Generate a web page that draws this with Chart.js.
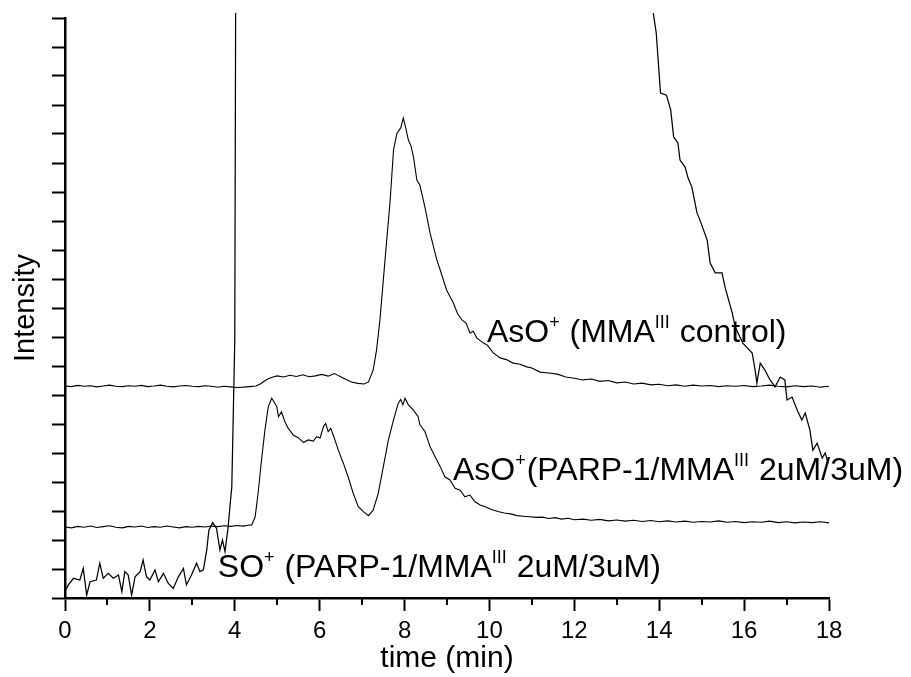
<!DOCTYPE html>
<html>
<head>
<meta charset="utf-8">
<script src="https://cdn.jsdelivr.net/npm/chart.js@4.4.1/dist/chart.umd.min.js"></script>
<style>
  html, body { margin: 0; padding: 0; background: #fff; }
  canvas { display: block; }
</style>
</head>
<body>
<canvas id="chart" width="911" height="677"></canvas>
<script>
// AsO+ (MMA III control)
const TIME_CONTROL = [
    0, 0.15, 0.3, 0.45, 0.6, 0.75, 0.9, 1.05, 1.2, 1.35, 1.5, 1.65, 1.8, 1.95, 2.1, 2.25,
    2.4, 2.55, 2.7, 2.85, 3.0, 3.15, 3.3, 3.45, 3.6, 3.75, 3.9, 4.05, 4.2, 4.35, 4.5,
    4.6, 4.7, 4.8, 4.9, 5.0, 5.15, 5.3, 5.45, 5.6, 5.75, 5.9, 6.05, 6.2, 6.35,
    6.45, 6.6, 6.75, 6.9, 7.05, 7.15,
    7.26, 7.34, 7.42, 7.5, 7.58, 7.66, 7.74, 7.82, 7.91, 7.97,
    8.03, 8.09, 8.15, 8.21, 8.29, 8.36, 8.48, 8.6, 8.76, 8.84,
    8.99, 9.15, 9.25, 9.35, 9.45, 9.54, 9.62, 9.7, 9.86, 9.95,
    10.09, 10.25, 10.4, 10.56, 10.72, 10.88, 11.0, 11.19,
    11.4, 11.6, 11.8, 12.0, 12.2, 12.4, 12.6, 12.8, 13.0, 13.2, 13.4, 13.6, 13.8, 14.0,
    14.2, 14.4, 14.6, 14.8, 15.0, 15.2, 15.4, 15.6, 15.8, 16.0, 16.2, 16.4, 16.6, 16.8,
    17.0, 17.2, 17.4, 17.6, 17.8, 18.0,
];
const INT_CONTROL = [
    7.31, 7.29, 7.33, 7.30, 7.32, 7.28, 7.31, 7.34, 7.30, 7.29, 7.32, 7.30, 7.33, 7.29, 7.31, 7.34,
    7.30, 7.28, 7.31, 7.33, 7.30, 7.29, 7.32, 7.30, 7.27, 7.30, 7.28, 7.26, 7.27, 7.29, 7.31,
    7.38, 7.48, 7.57, 7.62, 7.66, 7.62, 7.68, 7.64, 7.70, 7.63, 7.66, 7.71, 7.65, 7.74,
    7.66, 7.55, 7.45, 7.40, 7.38, 7.45,
    7.86, 8.55, 9.59, 10.97, 12.34, 13.69, 15.45, 16.03, 16.21, 16.55,
    16.2, 15.79, 15.6, 15.21, 14.41, 14.24, 13.48, 12.59, 11.66, 11.31,
    10.62, 10.17, 9.8, 9.59, 9.48, 9.14, 9.2, 8.97, 8.79, 8.72,
    8.45, 8.28, 8.22, 8.10, 8.06, 7.97, 7.93, 7.79,
    7.76, 7.72, 7.62, 7.58, 7.52, 7.55, 7.47, 7.50, 7.42, 7.45, 7.38, 7.41, 7.35, 7.37,
    7.32, 7.35, 7.30, 7.34, 7.31, 7.33, 7.29, 7.32, 7.30, 7.33, 7.29, 7.31, 7.34, 7.30,
    7.28, 7.32, 7.29, 7.31, 7.27, 7.30,
];

// AsO+ (PARP-1/MMA III 2uM/3uM)
const TIME_PARP = [
    0, 0.15, 0.3, 0.45, 0.6, 0.75, 0.9, 1.05, 1.2, 1.35, 1.5, 1.65, 1.8, 1.95, 2.1, 2.25,
    2.4, 2.55, 2.7, 2.85, 3.0, 3.15, 3.3, 3.45, 3.6, 3.75, 3.9, 4.05, 4.2, 4.32, 4.40,
    4.48, 4.55, 4.63, 4.71, 4.79, 4.87, 4.93, 4.99, 5.03, 5.1, 5.18, 5.26, 5.38, 5.5,
    5.62, 5.73, 5.85, 5.93, 6.01, 6.09, 6.14, 6.2, 6.26, 6.32, 6.44, 6.56, 6.67, 6.79,
    6.91, 7.03, 7.15, 7.26, 7.38, 7.5, 7.62, 7.74, 7.85, 7.91, 7.96, 8.01, 8.09, 8.21,
    8.32, 8.36, 8.48, 8.6, 8.72, 8.84, 8.95, 9.07, 9.19, 9.31, 9.42, 9.54, 9.66, 9.78,
    9.9, 10.05, 10.2, 10.35, 10.5, 10.65, 10.8, 10.95, 11.1, 11.25, 11.4, 11.55, 11.7, 11.85,
    12.0, 12.2, 12.4, 12.6, 12.8, 13.0, 13.2, 13.4, 13.6, 13.8, 14.0, 14.2, 14.4, 14.6,
    14.8, 15.0, 15.2, 15.4, 15.6, 15.8, 16.0, 16.2, 16.4, 16.6, 16.8, 17.0, 17.2, 17.4,
    17.6, 17.8, 18.0,
];
const INT_PARP = [
    2.45, 2.42, 2.47, 2.44, 2.48, 2.43, 2.46, 2.49, 2.44, 2.42, 2.47, 2.45, 2.48, 2.43, 2.46, 2.44,
    2.48, 2.45, 2.42, 2.46, 2.44, 2.47, 2.45, 2.48, 2.46, 2.49, 2.47, 2.50, 2.48, 2.51, 2.52,
    2.8, 3.62, 4.76, 5.79, 6.6, 6.89, 6.75, 6.6, 6.25, 6.42, 6.08, 5.85, 5.62, 5.52,
    5.36, 5.45, 5.41, 5.56, 5.52, 5.91, 6.02, 5.74, 5.85, 5.62, 5.1, 4.64, 4.18, 3.61,
    3.15, 2.98, 2.84, 3.03, 3.61, 4.53, 5.45, 6.14, 6.71, 6.85, 6.66, 6.89, 6.66, 6.48,
    6.25, 5.97, 5.74, 5.22, 4.87, 4.53, 4.18, 4.07, 3.78, 3.72, 3.49, 3.55, 3.32, 3.21,
    3.15, 3.05, 2.98, 2.93, 2.9, 2.84, 2.82, 2.8, 2.78, 2.79, 2.74, 2.77, 2.72, 2.75,
    2.70, 2.72, 2.68, 2.71, 2.66, 2.69, 2.65, 2.68, 2.64, 2.67, 2.63, 2.66, 2.62, 2.65,
    2.61, 2.64, 2.62, 2.66, 2.61, 2.64, 2.60, 2.63, 2.61, 2.65, 2.60, 2.63, 2.59, 2.62,
    2.60, 2.63, 2.59,
];

// SO+ (PARP-1/MMA III 2uM/3uM); runs off the top between ~4 and ~14 min
const TIME_SO = [
    0.02, 0.08, 0.2, 0.35, 0.43, 0.51, 0.59, 0.74, 0.82, 0.9, 1.02, 1.14, 1.26, 1.34,
    1.41, 1.49, 1.57, 1.65, 1.77, 1.84, 1.92, 2.0, 2.12, 2.2, 2.32, 2.43, 2.55, 2.67,
    2.79, 2.86, 2.98, 3.1, 3.18, 3.26, 3.34, 3.39, 3.48, 3.57, 3.65, 3.71, 3.77, 3.84,
    3.9, 3.93, 4.0, 4.02,
    9.0,
    13.86, 13.93, 14.03, 14.17, 14.27, 14.34, 14.44, 14.49, 14.61, 14.68, 14.77, 14.89,
    14.96, 15.13, 15.2, 15.32, 15.48, 15.55, 15.72, 15.79, 15.97, 16.19, 16.26, 16.3,
    16.38, 16.49, 16.61, 16.73, 16.85, 16.96, 17.01, 17.13, 17.25, 17.36, 17.44, 17.55,
    17.62, 17.72, 17.84, 17.91, 17.98,
];
const INT_SO = [
    0.28, 0.45, 0.68, 0.62, 1.02, 0.1, 0.56, 0.62, 1.2, 0.68, 0.85, 0.68, 0.79, 0.22,
    0.91, 0.79, 0.1, 0.73, 0.91, 1.31, 0.73, 0.62, 0.97, 0.56, 0.85, 0.51, 0.33, 0.73,
    1.02, 0.45, 0.79, 1.2, 0.91, 0.97, 1.66, 2.34, 2.6, 2.4, 1.66, 2.0, 1.6, 2.4,
    3.38, 3.83, 8.9, 20.17,
    null,
    20.17, 19.48, 17.41, 17.34, 16.83, 15.9, 15.69, 15.1, 14.86, 14.48, 14.17, 13.28,
    13.03, 12.34, 11.55, 11.21, 11.21, 10.72, 9.83, 9.34, 8.79, 8.45, 7.86, 7.41,
    8.1, 7.86, 7.52, 7.28, 7.62, 7.52, 6.83, 6.93, 6.48, 6.14, 6.38, 5.79,
    5.10, 5.34, 4.83, 5.0, 4.66,
];

const X_TICKS = [0, 2, 4, 6, 8, 10, 12, 14, 16, 18];
const X_MINOR_TICKS = [1, 3, 5, 7, 9, 11, 13, 15, 17];
const Y_TICKS = [0, 1, 2, 3, 4, 5, 6, 7, 8, 9, 10, 11, 12, 13, 14, 15, 16, 17, 18, 19, 20];

// trace labels, placed in data units; second flag marks superscript pieces
const TRACE_LABELS = [
    { t: 9.94, v: 8.83, parts: [['AsO', 0], ['+', 1], [' (MMA', 0], ['III', 1], [' control)', 0]] },
    { t: 9.14, v: 4.07, parts: [['AsO', 0], ['+', 1], ['(PARP-1/MMA', 0], ['III', 1], [' 2uM/3uM)', 0]] },
    { t: 3.6, v: 0.72, parts: [['SO', 0], ['+', 1], [' (PARP-1/MMA', 0], ['III', 1], [' 2uM/3uM)', 0]] },
];

const FONT = '"Liberation Sans", Arial, Helvetica, sans-serif';

function toPoints(times, values) {
    return times.map((t, i) => ({ x: t, y: values[i] === undefined ? null : values[i] }));
}

function trace(data, extra) {
    return Object.assign({
        data,
        borderColor: '#000',
        borderWidth: 1.1,
        pointRadius: 0,
        tension: 0,
        fill: false,
        spanGaps: false,
    }, extra || {});
}

const minorTicks = {
    id: 'minorTicks',
    afterDraw(chart) {
        const { ctx, scales: { x } } = chart;
        ctx.save();
        ctx.strokeStyle = '#000';
        ctx.lineWidth = 2;
        X_MINOR_TICKS.forEach((v) => {
            const px = Math.round(x.getPixelForValue(v));
            ctx.beginPath();
            ctx.moveTo(px, x.top);
            ctx.lineTo(px, x.top + 7);
            ctx.stroke();
        });
        ctx.restore();
    },
};

const traceLabels = {
    id: 'traceLabels',
    afterDatasetsDraw(chart) {
        const { ctx, scales: { x, y } } = chart;
        ctx.save();
        ctx.fillStyle = '#000';
        ctx.textBaseline = 'alphabetic';
        ctx.textAlign = 'left';
        TRACE_LABELS.forEach((lbl) => {
            let px = x.getPixelForValue(lbl.t);
            const py = y.getPixelForValue(lbl.v);
            lbl.parts.forEach(([text, sup]) => {
                ctx.font = sup ? `18px ${FONT}` : `32px ${FONT}`;
                ctx.fillText(text, px, sup ? py - 14 : py);
                px += ctx.measureText(text).width + (sup ? 1 : 0);
            });
        });
        ctx.restore();
    },
};

new Chart(document.getElementById('chart'), {
    type: 'line',
    data: {
        datasets: [
            trace(toPoints(TIME_CONTROL, INT_CONTROL)),
            trace(toPoints(TIME_PARP, INT_PARP)),
            trace(toPoints(TIME_SO, INT_SO), { borderWidth: 1.25, clip: { left: 2, top: 6, right: 2, bottom: 2 } }),
        ],
    },
    options: {
        responsive: false,
        devicePixelRatio: 1,
        animation: false,
        layout: { padding: { top: 18, right: 82, bottom: 0, left: 0 } },
        plugins: { legend: { display: false }, tooltip: { enabled: false } },
        scales: {
            x: {
                type: 'linear',
                min: 0,
                max: 18,
                afterBuildTicks: (s) => { s.ticks = X_TICKS.map((v) => ({ value: v })); },
                afterFit: (s) => { s.height = 79; },
                grid: { drawOnChartArea: false, drawTicks: true, tickLength: 13, tickWidth: 2, tickColor: '#000' },
                border: { display: true, color: '#000', width: 2.5 },
                ticks: { color: '#000', font: { family: FONT, size: 24 }, padding: 6, maxRotation: 0 },
                title: {
                    display: true, text: 'time (min)', color: '#000',
                    font: { family: FONT, size: 30, lineHeight: 1 }, padding: { top: 0, bottom: 3 },
                },
            },
            y: {
                type: 'linear',
                min: 0,
                max: 20,
                afterBuildTicks: (s) => { s.ticks = Y_TICKS.map((v) => ({ value: v })); },
                afterFit: (s) => { s.width = 65; },
                grid: { drawOnChartArea: false, drawTicks: true, tickLength: 13, tickWidth: 2, tickColor: '#000' },
                border: { display: true, color: '#000', width: 2.5 },
                ticks: { display: false },
                title: {
                    display: true, text: 'Intensity', color: '#000',
                    font: { family: FONT, size: 29, lineHeight: 1 }, padding: { top: 11.5, bottom: 0 },
                },
            },
        },
    },
    plugins: [minorTicks, traceLabels],
});
</script>
</body>
</html>
